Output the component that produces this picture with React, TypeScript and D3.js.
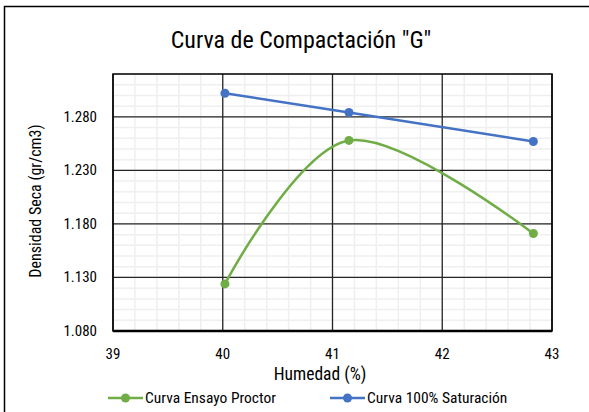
import { useEffect, useRef } from 'react'
import * as d3 from 'd3'

// data
const humedad = [40.02, 41.15, 42.83]
const proctor = [1.124, 1.258, 1.171]
const saturacion = [1.302, 1.284, 1.257]
const seriesNames = ['Curva Ensayo Proctor', 'Curva 100% Saturación']
const xTicks = [39, 40, 41, 42, 43]
const yTicks = [1.08, 1.13, 1.18, 1.23, 1.28]

const W = 589
const H = 412
const FONT = "'Liberation Sans Narrow', 'Roboto Condensed', Roboto, sans-serif"

const App = () => {
  const svgRef = useRef<SVGSVGElement | null>(null)

  useEffect(() => {
    if (!svgRef.current) return
    const svg = d3.select(svgRef.current)
    svg.selectAll('*').remove()

    const margin = { top: 74, right: 37, bottom: 81, left: 113 }
    const width = W - margin.left - margin.right
    const height = H - margin.top - margin.bottom

    // white background + chart border (runs off the bottom/right)
    svg.append('rect').attr('width', W).attr('height', H).attr('fill', 'white')
    svg
      .append('rect')
      .attr('x', 4.5)
      .attr('y', 6.5)
      .attr('width', 620)
      .attr('height', 440)
      .attr('fill', 'none')
      .attr('stroke', '#000')
      .attr('stroke-width', 1.5)

    const g = svg
      .append('g')
      .attr('transform', `translate(${margin.left},${margin.top})`)

    const x = d3.scaleLinear().domain([39, 43]).range([0, width])
    const y = d3.scaleLinear().domain([1.08, 1.32]).range([height, 0])

    // minor grid
    const xMinor = d3.range(39, 43.001, 0.2)
    const yMinor = d3.range(1.08, 1.3201, 0.01)
    g.selectAll('.xminor')
      .data(xMinor)
      .join('line')
      .attr('x1', (d) => x(d))
      .attr('x2', (d) => x(d))
      .attr('y1', 0)
      .attr('y2', height)
      .attr('stroke', '#efefef')
      .attr('stroke-width', 1.5)
    g.selectAll('.yminor')
      .data(yMinor)
      .join('line')
      .attr('x1', 0)
      .attr('x2', width)
      .attr('y1', (d) => y(d))
      .attr('y2', (d) => y(d))
      .attr('stroke', '#efefef')
      .attr('stroke-width', 1.5)

    // major grid
    g.selectAll('.xmajor')
      .data(xTicks)
      .join('line')
      .attr('x1', (d) => x(d))
      .attr('x2', (d) => x(d))
      .attr('y1', 0)
      .attr('y2', height)
      .attr('stroke', '#262626')
      .attr('stroke-width', 1.3)
    g.selectAll('.ymajor')
      .data(yTicks)
      .join('line')
      .attr('x1', 0)
      .attr('x2', width)
      .attr('y1', (d) => y(d))
      .attr('y2', (d) => y(d))
      .attr('stroke', '#262626')
      .attr('stroke-width', 1.3)

    // plot border
    g.append('rect')
      .attr('width', width)
      .attr('height', height)
      .attr('fill', 'none')
      .attr('stroke', '#000')
      .attr('stroke-width', 1.5)
    g.append('line')
      .attr('x1', 0)
      .attr('x2', width)
      .attr('y1', height)
      .attr('y2', height)
      .attr('stroke', '#000')
      .attr('stroke-width', 2.5)

    // tick labels
    g.selectAll('.xlab')
      .data(xTicks)
      .join('text')
      .attr('x', (d) => x(d))
      .attr('y', height + 28)
      .attr('text-anchor', 'middle')
      .attr('font-family', FONT)
      .attr('font-size', 15)
      .attr('fill', '#000')
      .text((d) => d)
    g.selectAll('.ylab')
      .data(yTicks)
      .join('text')
      .attr('x', -16)
      .attr('y', (d) => y(d) + 5)
      .attr('text-anchor', 'end')
      .attr('font-family', FONT)
      .attr('font-size', 15)
      .attr('fill', '#000')
      .text((d) => d3.format('.3f')(d))

    // lines
    const pts = (ys: number[]) => humedad.map((h, i) => [h, ys[i]] as [number, number])
    const smooth = d3
      .line<[number, number]>()
      .x((d) => x(d[0]))
      .y((d) => y(d[1]))
      .curve(d3.curveCardinal.tension(0))
    const straight = d3
      .line<[number, number]>()
      .x((d) => x(d[0]))
      .y((d) => y(d[1]))

    const series = [
      { data: pts(proctor), color: '#70AD47', line: smooth },
      { data: pts(saturacion), color: '#4472C4', line: straight },
    ]
    series.forEach((s) => {
      g.append('path')
        .datum(s.data)
        .attr('fill', 'none')
        .attr('stroke', s.color)
        .attr('stroke-width', 2.5)
        .attr('d', s.line)
      g.selectAll(null)
        .data(s.data)
        .join('circle')
        .attr('cx', (d) => x(d[0]))
        .attr('cy', (d) => y(d[1]))
        .attr('r', 4.5)
        .attr('fill', s.color)
    })

    // title
    svg
      .append('text')
      .attr('x', 301)
      .attr('y', 48)
      .attr('text-anchor', 'middle')
      .attr('font-family', FONT)
      .attr('font-size', 24)
      .attr('fill', '#000')
      .text('Curva de Compactación "G"')

    // axis titles
    svg
      .append('text')
      .attr('x', 320)
      .attr('y', 380)
      .attr('text-anchor', 'middle')
      .attr('font-family', FONT)
      .attr('font-size', 17.5)
      .attr('fill', '#000')
      .text('Humedad (%)')
    svg
      .append('text')
      .attr('transform', 'translate(41,201) rotate(-90)')
      .attr('text-anchor', 'middle')
      .attr('font-family', FONT)
      .attr('font-size', 16)
      .attr('fill', '#000')
      .text('Densidad Seca (gr/cm3)')

    // legend
    const legendX = [108, 330]
    series.forEach((s, i) => {
      const lg = svg.append('g').attr('transform', `translate(${legendX[i]},398)`)
      lg.append('line')
        .attr('x1', 0)
        .attr('x2', 35)
        .attr('stroke', s.color)
        .attr('stroke-width', 2.5)
      lg.append('circle').attr('cx', 17.5).attr('r', 4.5).attr('fill', s.color)
      lg.append('text')
        .attr('x', 37)
        .attr('y', 5)
        .attr('font-family', FONT)
        .attr('font-size', 15.5)
        .attr('fill', '#000')
        .text(seriesNames[i])
    })
  }, [])

  return (
    <svg
      ref={svgRef}
      width={W}
      height={H}
      style={{ position: 'absolute', left: 0, top: 0, display: 'block' }}
    ></svg>
  )
}

export default App
